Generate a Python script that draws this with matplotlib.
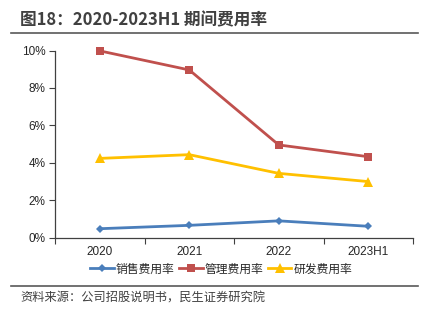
import matplotlib
matplotlib.use("Agg")
import matplotlib.pyplot as plt
from matplotlib.lines import Line2D
from matplotlib.ticker import FixedLocator, FuncFormatter

plt.rcParams['font.family'] = ['Noto Sans CJK SC', 'DejaVu Sans']

categories = ["2020", "2021", "2022", "2023H1"]
sales_rate = [0.47, 0.65, 0.89, 0.60]
admin_rate = [9.98, 8.96, 4.95, 4.32]
rd_rate = [4.23, 4.43, 3.43, 2.99]
series_names = ["销售费用率", "管理费用率", "研发费用率"]
yticks = [0, 2, 4, 6, 8, 10]

title = "图18：2020-2023H1 期间费用率"
source = "资料来源：公司招股说明书，民生证券研究院"

W, H = 430, 327
fig = plt.figure(figsize=(W / 100, H / 100), dpi=100)

ax = fig.add_axes([55 / W, (H - 237.5) / H, (413 - 55) / W, (237.5 - 50.5) / H])
x = list(range(len(categories)))

colors = ["#4A7EBB", "#C0504D", "#FFC000"]
markers = ["D", "s", "^"]
msizes = [4, 6, 6.5]
for vals, c, m, ms, name in zip([sales_rate, admin_rate, rd_rate], colors, markers, msizes, series_names):
    ax.plot(x, vals, color=c, marker=m, markersize=ms, linewidth=2, label=name,
            markeredgewidth=0, zorder=3, clip_on=False)

ax.set_xlim(-0.5, len(categories) - 0.5)
ax.set_ylim(0, 10)
ax.set_yticks(yticks)
ax.yaxis.set_major_formatter(FuncFormatter(lambda v, p: f"{v:.0f}%"))
ax.set_xticks(x)
ax.set_xticklabels(categories)
ax.xaxis.set_minor_locator(FixedLocator([i - 0.5 for i in range(len(categories) + 1)]))
ax.tick_params(axis='x', which='major', length=0, pad=6, labelsize=8.5, colors='#000000')
ax.tick_params(axis='x', which='minor', length=4, width=0.8, direction='out', color='#404040')
ax.tick_params(axis='y', which='major', length=4, width=0.8, direction='out', labelsize=8.5,
               color='#404040', pad=3)
for lab in ax.get_xticklabels() + ax.get_yticklabels():
    lab.set_color('#262626')
    lab.set_family(['Liberation Sans', 'DejaVu Sans'])

for s in ['top', 'right']:
    ax.spines[s].set_visible(False)
for s in ['left', 'bottom']:
    ax.spines[s].set_color('#404040')
    ax.spines[s].set_linewidth(0.9)

leg = fig.legend(*ax.get_legend_handles_labels(), loc='center', bbox_to_anchor=(221 / W, 1 - 269 / H),
                 ncol=3, frameon=False, fontsize=8.5, handlelength=2.0, columnspacing=0.4,
                 handletextpad=0.15, borderaxespad=0, borderpad=0)
for t in leg.get_texts():
    t.set_color('#262626')

fig.text(20 / W, 1 - 20 / H, title, fontsize=12, fontweight='bold', color='#404040',
         ha='left', va='center')
fig.add_artist(Line2D([11 / W, 418 / W], [1 - 32.5 / H, 1 - 32.5 / H], color='#595959', linewidth=1.2))
fig.add_artist(Line2D([11 / W, 418 / W], [1 - 285.5 / H, 1 - 285.5 / H], color='#595959', linewidth=1.2))
fig.text(20 / W, 1 - 298 / H, source, fontsize=8.8, color='#404040', ha='left', va='center')

fig.savefig("out.png", dpi=100)
